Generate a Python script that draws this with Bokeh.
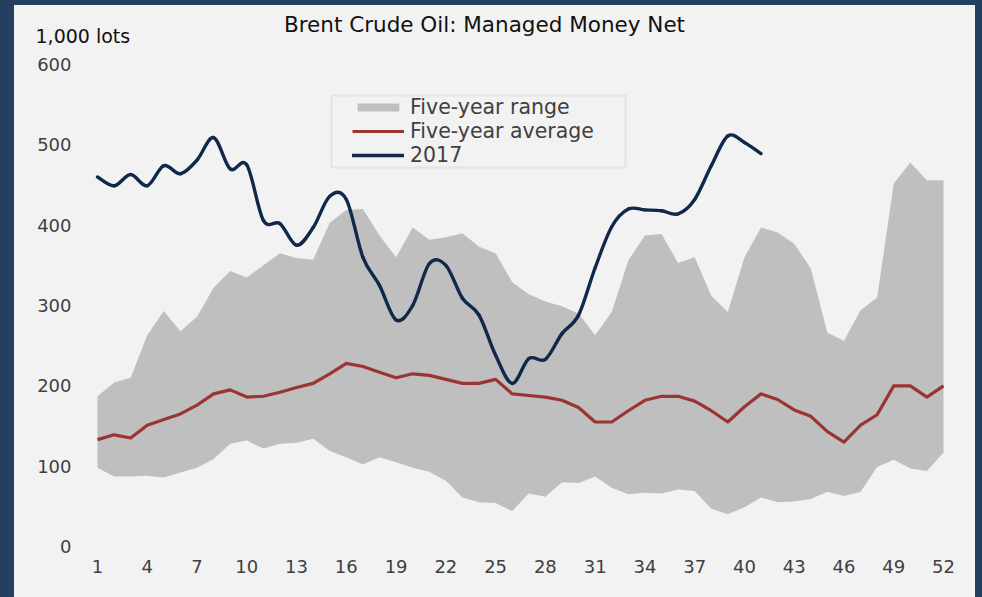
import numpy as np
from bokeh.plotting import figure
from bokeh.models import (ColumnDataSource, FixedTicker, Legend, LegendItem,
                          Label, BoxAnnotation, Range1d)
from bokeh.embed import file_html
from bokeh.resources import INLINE

# ---------------- data ----------------
weeks = list(range(1, 53))
range_low = [98, 87, 87, 88, 86, 92, 98, 109, 128, 132,
             122, 128, 129, 134, 119, 111, 102, 111, 105, 98,
             93, 82, 61, 55, 54, 44, 66, 62, 80, 79,
             87, 73, 65, 67, 66, 71, 69, 47, 40, 49,
             61, 55, 56, 59, 68, 63, 68, 99, 108, 97,
             94, 117]
range_high = [187, 204, 210, 263, 293, 268, 286, 322, 343, 335,
              350, 365, 359, 357, 403, 419, 420, 387, 360, 397,
              382, 385, 390, 373, 365, 329, 314, 305, 299, 290,
              263, 292, 356, 387, 389, 353, 360, 312, 292, 360,
              397, 391, 377, 346, 266, 256, 294, 310, 452, 478,
              456, 456]
avg_5yr = [133, 139, 135, 151, 158, 165, 176, 190, 195, 186,
           187, 192, 198, 203, 215, 228, 224, 217, 210, 215,
           213, 208, 203, 203, 208, 190, 188, 186, 182, 173,
           155, 155, 169, 182, 187, 187, 181, 169, 155, 174,
           190, 183, 170, 162, 143, 130, 151, 164, 200, 200,
           186, 200]
weeks_2017 = list(range(1, 42))
net_2017 = [460, 449, 463, 449, 474, 464, 481, 509, 470, 475,
            406, 402, 375, 397, 436, 432, 360, 325, 282, 300,
            352, 350, 309, 288, 238, 203, 234, 233, 265, 288,
            347, 398, 420, 419, 418, 414, 432, 474, 511, 503,
            489]
x_ticks = [1, 4, 7, 10, 13, 16, 19, 22, 25, 28, 31, 34, 37, 40, 43, 46, 49, 52]
y_ticks = [0, 100, 200, 300, 400, 500, 600]

title_text = "Brent Crude Oil: Managed Money Net"
unit_text = "1,000 lots"
series_names = ["Five-year range", "Five-year average", "2017"]

# ---------------- style ----------------
FONT = "DejaVu Sans"
NAVY_BG = "#243f60"
PANEL = "#f2f2f2"
GREY = "#bfbfbf"
RED = "#9a3533"
NAVY = "#10294a"
TXT = "#404040"

p = figure(width=961, height=592, output_backend="svg", toolbar_location=None,
           x_range=Range1d(-3.943, 53.748), y_range=Range1d(-12.45, 672.2),
           min_border_left=1, min_border_right=3, min_border_top=1,
           min_border_bottom=41, title=None)
p.border_fill_color = PANEL
p.background_fill_color = PANEL
p.outline_line_color = None
p.xgrid.visible = False
p.ygrid.visible = False
p.styles = {"background-color": PANEL}

# range area
src_rng = ColumnDataSource(dict(x=weeks, lo=range_low, hi=range_high))
r_rng = p.varea(x="x", y1="lo", y2="hi", source=src_rng, fill_color=GREY)

# average line
r_avg = p.line(weeks, avg_5yr, line_color=RED, line_width=3.2, line_join="round")

# 2017 smooth line (Catmull-Rom -> cubic Bezier segments)
px = np.array(weeks_2017, dtype=float)
py = np.array(net_2017, dtype=float)
n = len(px)
i0 = np.arange(n - 1)
im = np.clip(i0 - 1, 0, n - 1)
ip = np.clip(i0 + 2, 0, n - 1)
src_bz = ColumnDataSource(dict(
    x0=px[i0], y0=py[i0], x1=px[i0 + 1], y1=py[i0 + 1],
    cx0=px[i0] + (px[i0 + 1] - px[im]) / 6.0,
    cy0=py[i0] + (py[i0 + 1] - py[im]) / 6.0,
    cx1=px[i0 + 1] - (px[ip] - px[i0]) / 6.0,
    cy1=py[i0 + 1] - (py[ip] - py[i0]) / 6.0,
))
r_2017 = p.bezier(x0="x0", y0="y0", x1="x1", y1="y1", cx0="cx0", cy0="cy0",
                  cx1="cx1", cy1="cy1", source=src_bz, line_color=NAVY,
                  line_width=3.4, line_cap="round")

# axes
p.xaxis.ticker = FixedTicker(ticks=x_ticks)
p.yaxis.ticker = FixedTicker(ticks=y_ticks)
for ax in (p.xaxis[0], p.yaxis[0]):
    ax.axis_line_color = None
    ax.major_tick_line_color = None
    ax.minor_tick_line_color = None
    ax.major_tick_out = 0
    ax.major_tick_in = 0
    ax.major_label_text_font = FONT
    ax.major_label_text_font_size = "18px"
    ax.major_label_text_color = TXT
p.xaxis.major_label_standoff = 3
p.yaxis.major_label_standoff = -56

# texts (frame-relative screen units)
p.add_layout(Label(x=469, y=532, x_units="screen", y_units="screen",
                   text=title_text, text_font=FONT, text_font_size="21.5px",
                   text_color="#111111", text_align="center",
                   text_baseline="middle"))
p.add_layout(Label(x=20, y=521, x_units="screen", y_units="screen",
                   text=unit_text, text_font=FONT, text_font_size="19px",
                   text_color="#111111", text_align="left",
                   text_baseline="middle"))

# legend box + legend
p.add_layout(BoxAnnotation(left=316, right=610, top=461, bottom=389,
                           left_units="screen", right_units="screen",
                           top_units="screen", bottom_units="screen",
                           fill_alpha=0, line_color=GREY, line_width=2))
legend = Legend(items=[LegendItem(label=series_names[0], renderers=[r_rng]),
                       LegendItem(label=series_names[1], renderers=[r_avg]),
                       LegendItem(label=series_names[2], renderers=[r_2017])],
                location=(337, 389), padding=0, margin=0, spacing=0,
                glyph_width=52, glyph_height=10, label_height=24,
                label_standoff=6, label_text_font=FONT,
                label_text_font_size="20.5px", label_text_color=TXT,
                border_line_alpha=0, background_fill_alpha=0)
p.add_layout(legend, "center")

css = ("<style>html, body {background-color: %s !important;} "
       "body {margin: 0 !important; padding: 5px 0 0 14px !important; "
       "box-sizing: border-box;}</style></head>" % NAVY_BG)
html = file_html(p, INLINE)
html = html.replace("</head>", css, 1)
open("out.html", "w").write(html)
